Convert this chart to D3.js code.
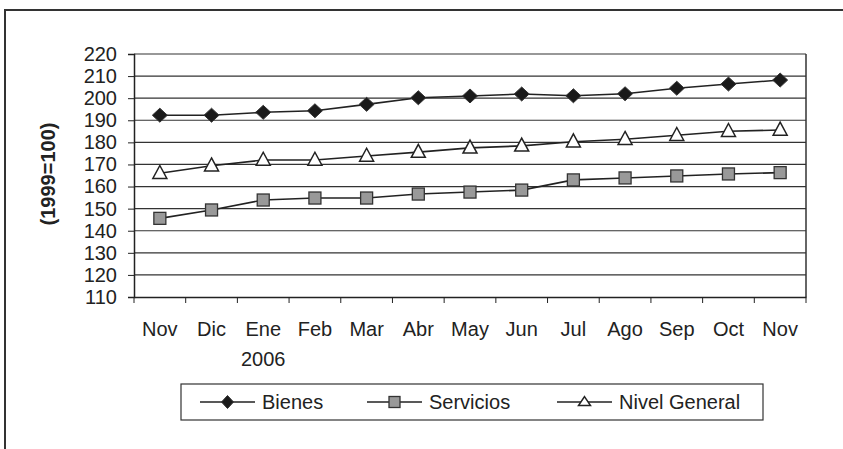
<!DOCTYPE html>
<html><head><meta charset="utf-8">
<script src="https://cdn.jsdelivr.net/npm/d3@7"></script>
<style>body{margin:0;background:#fff}svg{display:block}text{font-family:"Liberation Sans",Arial,sans-serif;fill:#222}</style>
</head><body><svg id="c" width="843" height="449"></svg>
<script>
const categories = ["Nov","Dic","Ene","Feb","Mar","Abr","May","Jun","Jul","Ago","Sep","Oct","Nov"];
const yearLabels = ["","","2006","","","","","","","","","",""];
const bienes = [192.3,192.3,193.6,194.3,197.2,200.2,201.0,201.9,201.1,202.0,204.5,206.4,208.2];
const servicios = [145.6,149.4,153.9,154.8,154.8,156.6,157.5,158.4,163.0,163.9,164.8,165.7,166.3];
const nivelGeneral = [166.0,169.4,172.0,172.0,173.8,175.6,177.5,178.4,180.3,181.4,183.2,185.0,185.6];
const yTicks = [110,120,130,140,150,160,170,180,190,200,210,220];
const seriesNames = ["Bienes","Servicios","Nivel General"];
const yTitle = "(1999=100)";

const svg = d3.select("#c");
const L=134,R=806,T=54,B=297;
const idx = categories.map((d,i)=>i);
const x = d3.scaleBand().domain(idx).range([L,R]);
const y = d3.scaleLinear().domain([110,220]).range([B,T]);
const ink="#222";
const FS=20;

// outer frame
svg.append("rect").attr("x",5).attr("y",10).attr("width",860).attr("height",460)
  .attr("fill","none").attr("stroke","#333").attr("stroke-width",2);

// gridlines
svg.append("g").selectAll("line").data(yTicks.slice(1)).join("line")
  .attr("x1",L).attr("x2",R).attr("y1",d=>y(d)).attr("y2",d=>y(d))
  .attr("stroke","#333").attr("stroke-width",1.2);
// right border
svg.append("line").attr("x1",R).attr("x2",R).attr("y1",T).attr("y2",B).attr("stroke","#333").attr("stroke-width",1.5);

// y axis
const ya = svg.append("g").attr("transform",`translate(${L},0)`)
  .call(d3.axisLeft(y).tickValues(yTicks).tickSize(6).tickPadding(11).tickFormat(d3.format("d")));
ya.select(".domain").attr("stroke",ink).attr("stroke-width",1.5);
ya.selectAll(".tick line").attr("stroke",ink);
ya.selectAll("text").attr("font-size",FS).attr("fill",ink).attr("font-family","Liberation Sans, Arial, sans-serif");

// x axis
const xa = svg.append("g").attr("transform",`translate(0,${B})`)
  .call(d3.axisBottom(x).tickSize(0).tickFormat(""));
xa.select(".domain").attr("stroke",ink).attr("stroke-width",1.5);
svg.append("g").selectAll("line").data(idx.concat([13])).join("line")
  .attr("x1",d=>d<13?x(d):R).attr("x2",d=>d<13?x(d):R)
  .attr("y1",B).attr("y2",B+6).attr("stroke",ink);
const cx = i=>x(i)+x.bandwidth()/2;
svg.append("g").selectAll("text").data(categories).join("text")
  .attr("x",(d,i)=>cx(i)).attr("y",336).attr("text-anchor","middle").attr("font-size",FS).text(d=>d);
svg.append("g").selectAll("text").data(yearLabels).join("text")
  .attr("x",(d,i)=>cx(i)).attr("y",366).attr("text-anchor","middle").attr("font-size",FS).text(d=>d);

// y title
svg.append("text").attr("transform","translate(55,174) rotate(-90)").attr("text-anchor","middle")
  .attr("font-size",20).attr("font-weight","bold").text(yTitle);

// lines
const line = d3.line().x((d,i)=>cx(i)).y(d=>y(d));
const allSeries=[bienes,servicios,nivelGeneral];
allSeries.forEach(s=>svg.append("path").attr("d",line(s)).attr("fill","none").attr("stroke",ink).attr("stroke-width",1.6));

function marker(g,type,px,py,sw,sh){
  if(type===0){
    g.append("path").attr("d",`M${px},${py-sh/2}L${px+sw/2},${py}L${px},${py+sh/2}L${px-sw/2},${py}Z`).attr("fill","#1a1a1a").attr("stroke","#333").attr("stroke-width",1);
  } else if(type===1){
    g.append("rect").attr("x",px-sw/2).attr("y",py-sh/2).attr("width",sw).attr("height",sh)
      .attr("fill","#999").attr("stroke","#333").attr("stroke-width",1.3);
  } else {
    g.append("path").attr("d",`M${px},${py-sh*0.6}L${px+sw/2},${py+sh*0.4}L${px-sw/2},${py+sh*0.4}Z`).attr("fill","#fff").attr("stroke","#222").attr("stroke-width",1.5);
  }
}
const mSize=[[15,14],[12,12],[14,13]];
allSeries.forEach((s,k)=>{
  const g=svg.append("g");
  s.forEach((v,i)=>marker(g,k,cx(i),y(v),mSize[k][0],mSize[k][1]));
});

// legend
svg.append("rect").attr("x",181).attr("y",384).attr("width",582).attr("height",36)
  .attr("fill","#fff").attr("stroke","#333").attr("stroke-width",1.2);
const legX=[200,367,557];
const legSize=[[12,13],[11,11],[12,9]];
seriesNames.forEach((n,k)=>{
  const lx=legX[k], ly=402;
  svg.append("line").attr("x1",lx).attr("x2",lx+55).attr("y1",ly).attr("y2",ly).attr("stroke",ink).attr("stroke-width",1.6);
  marker(svg,k,lx+27.5,ly,legSize[k][0],legSize[k][1]);
  svg.append("text").attr("x",lx+62).attr("y",ly+7).attr("font-size",FS).text(n);
});
</script></body></html>
